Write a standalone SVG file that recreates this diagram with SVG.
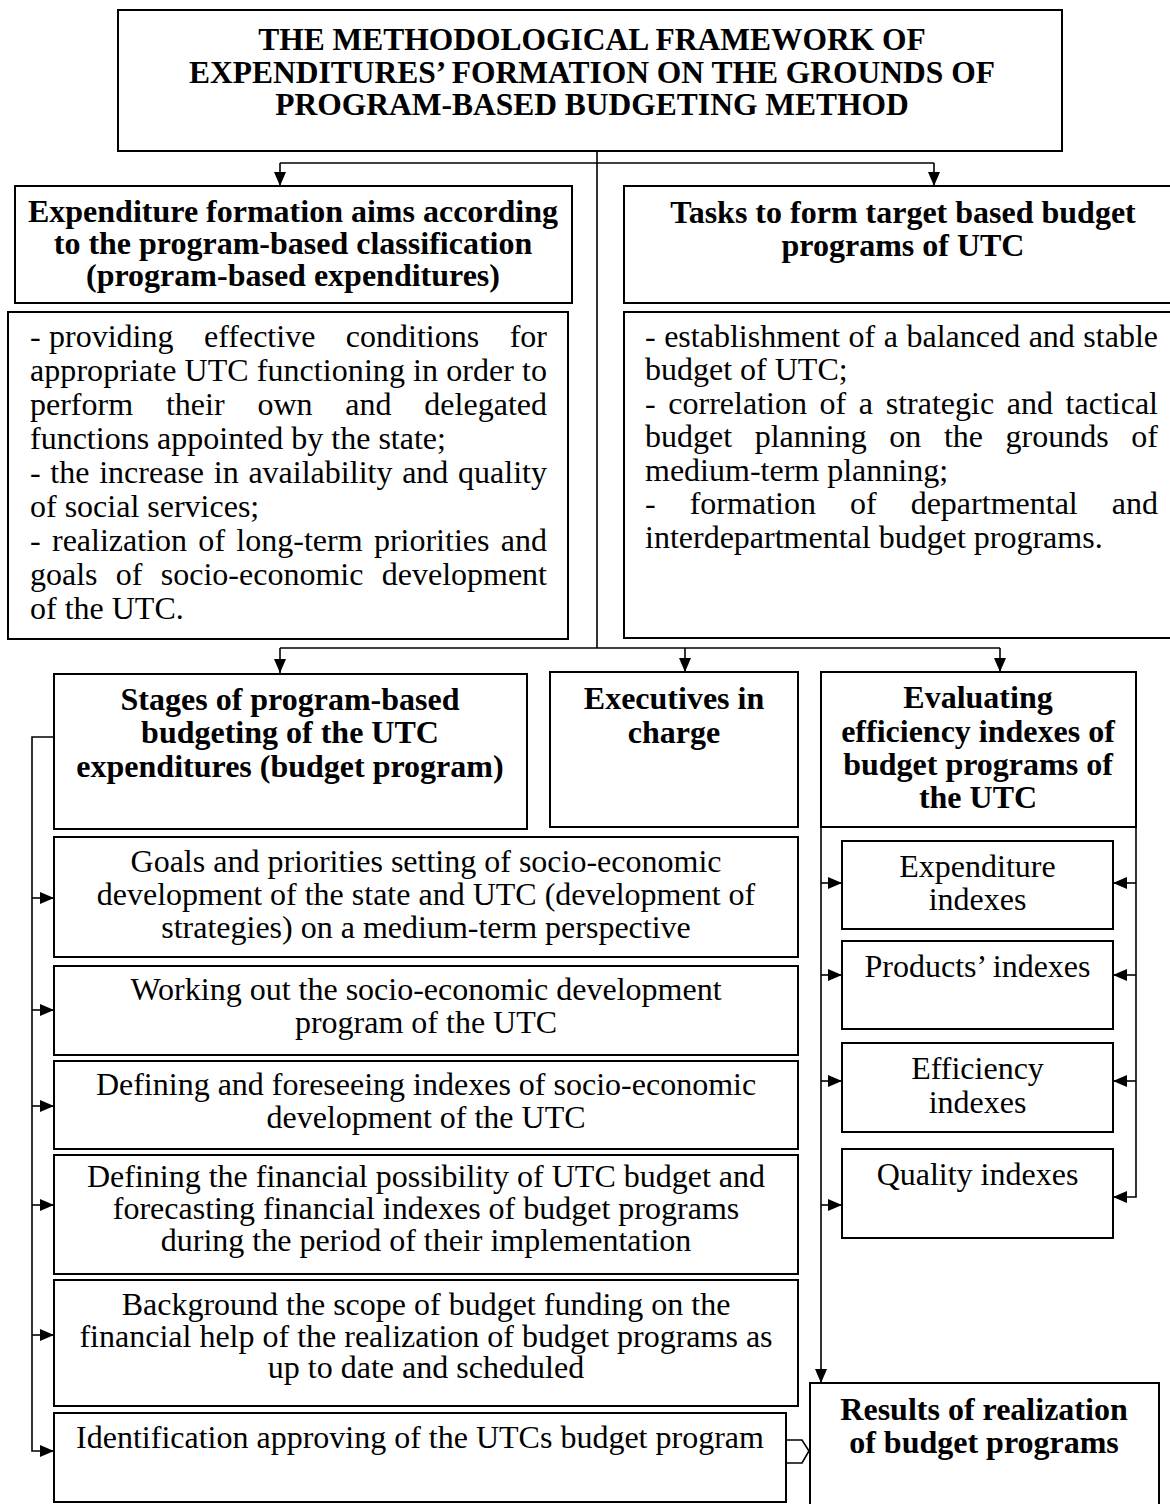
<svg xmlns="http://www.w3.org/2000/svg" width="1170" height="1504" viewBox="0 0 1170 1504">
<style>
.box{fill:#fff;stroke:#000;stroke-width:2}
.ln{fill:none;stroke:#000;stroke-width:1.6}
text{font-family:"Liberation Serif","Times New Roman",serif;font-size:32px;fill:#000}
.b{font-weight:bold}
.c{text-anchor:middle}
.t{font-size:31.5px}
</style>
<defs>
<marker id="ah" markerUnits="userSpaceOnUse" markerWidth="14" markerHeight="12" refX="14" refY="6" orient="auto">
<path d="M0,0 L14,6 L0,12 z" fill="#000"/>
</marker>
</defs>
<rect width="1170" height="1504" fill="#fff"/>

<g id="connectors">
<path class="ln" d="M597,151 V648"/>
<path class="ln" d="M280,163 H934"/>
<path class="ln" d="M280,163 V186" marker-end="url(#ah)"/>
<path class="ln" d="M934,163 V186" marker-end="url(#ah)"/>
<path class="ln" d="M280,648 H1000"/>
<path class="ln" d="M280,648 V673" marker-end="url(#ah)"/>
<path class="ln" d="M685,648 V672" marker-end="url(#ah)"/>
<path class="ln" d="M1000,648 V672" marker-end="url(#ah)"/>
<path class="ln" d="M54,737 H32 V1451 H54" marker-end="url(#ah)"/>
<path class="ln" d="M32,898 H54" marker-end="url(#ah)"/>
<path class="ln" d="M32,1010 H54" marker-end="url(#ah)"/>
<path class="ln" d="M32,1106 H54" marker-end="url(#ah)"/>
<path class="ln" d="M32,1205 H54" marker-end="url(#ah)"/>
<path class="ln" d="M32,1335 H54" marker-end="url(#ah)"/>
<path class="ln" d="M821,827 V1383" marker-end="url(#ah)"/>
<path class="ln" d="M1136,827 V1197 H1113" marker-end="url(#ah)"/>
<path class="ln" d="M821,883 H842" marker-end="url(#ah)"/>
<path class="ln" d="M821,975 H842" marker-end="url(#ah)"/>
<path class="ln" d="M821,1081 H842" marker-end="url(#ah)"/>
<path class="ln" d="M821,1205 H842" marker-end="url(#ah)"/>
<path class="ln" d="M1136,883 H1113" marker-end="url(#ah)"/>
<path class="ln" d="M1136,975 H1113" marker-end="url(#ah)"/>
<path class="ln" d="M1136,1081 H1113" marker-end="url(#ah)"/>
<path class="ln" d="M787,1440 H802 L809,1451 L802,1463 H787"/>
</g>

<g id="title">
<rect class="box" x="118" y="10" width="944" height="141"/>
<text class="b c t" x="592" y="50">THE METHODOLOGICAL FRAMEWORK OF</text>
<text class="b c t" x="592" y="83">EXPENDITURES’ FORMATION ON THE GROUNDS OF</text>
<text class="b c t" x="592" y="115">PROGRAM-BASED BUDGETING METHOD</text>
</g>

<g id="aims-head">
<rect class="box" x="15" y="186" width="557" height="117"/>
<text class="b c" x="293" y="222">Expenditure formation aims according</text>
<text class="b c" x="293" y="254">to the program-based classification</text>
<text class="b c" x="293" y="286">(program-based expenditures)</text>
</g>

<g id="aims-text">
<rect class="box" x="8" y="312" width="560" height="327"/>
<text x="30" y="347">-</text>
<text x="49" y="347" word-spacing="22.4" textLength="498" lengthAdjust="spacing">providing effective conditions for</text>
<text x="30" y="381" textLength="517" lengthAdjust="spacing">appropriate UTC functioning in order to</text>
<text x="30" y="415" word-spacing="24.8" textLength="517" lengthAdjust="spacing">perform their own and delegated</text>
<text x="30" y="449">functions appointed by the state;</text>
<text x="30" y="483" word-spacing="1.7" textLength="517" lengthAdjust="spacing">- the increase in availability and quality</text>
<text x="30" y="517">of social services;</text>
<text x="30" y="551" word-spacing="3.3" textLength="517" lengthAdjust="spacing">- realization of long-term priorities and</text>
<text x="30" y="585" word-spacing="10.3" textLength="517" lengthAdjust="spacing">goals of socio-economic development</text>
<text x="30" y="619">of the UTC.</text>
</g>

<g id="tasks-head">
<rect class="box" x="624" y="186" width="560" height="117"/>
<text class="b c" x="903" y="223">Tasks to form target based budget</text>
<text class="b c" x="903" y="256">programs of UTC</text>
</g>

<g id="tasks-text">
<rect class="box" x="624" y="312" width="560" height="326"/>
<text x="645" y="347" word-spacing="0.5" textLength="513" lengthAdjust="spacing">- establishment of a balanced and stable</text>
<text x="645" y="380">budget of UTC;</text>
<text x="645" y="414" word-spacing="4.6" textLength="513" lengthAdjust="spacing">- correlation of a strategic and tactical</text>
<text x="645" y="447" word-spacing="14.6" textLength="513" lengthAdjust="spacing">budget planning on the grounds of</text>
<text x="645" y="481">medium-term planning;</text>
<text x="645" y="514" word-spacing="26" textLength="513" lengthAdjust="spacing">- formation of departmental and</text>
<text x="645" y="548">interdepartmental budget programs.</text>
</g>

<g id="stages-head">
<rect class="box" x="54" y="674" width="473" height="155"/>
<text class="b c" x="290" y="710">Stages of program-based</text>
<text class="b c" x="290" y="743">budgeting of the UTC</text>
<text class="b c" x="290" y="777">expenditures (budget program)</text>
</g>

<g id="executives">
<rect class="box" x="550" y="672" width="248" height="155"/>
<text class="b c" x="674" y="709">Executives in</text>
<text class="b c" x="674" y="743">charge</text>
</g>

<g id="evaluating">
<rect class="box" x="821" y="672" width="315" height="155"/>
<text class="b c" x="978" y="708">Evaluating</text>
<text class="b c" x="978" y="742">efficiency indexes of</text>
<text class="b c" x="978" y="775">budget programs of</text>
<text class="b c" x="978" y="808">the UTC</text>
</g>

<g id="stage-goals">
<rect class="box" x="54" y="837" width="744" height="120"/>
<text class="c" x="426" y="872">Goals and priorities setting of socio-economic</text>
<text class="c" x="426" y="905">development of the state and UTC (development of</text>
<text class="c" x="426" y="938">strategies) on a medium-term perspective</text>
</g>

<g id="stage-program">
<rect class="box" x="54" y="966" width="744" height="89"/>
<text class="c" x="426" y="1000">Working out the socio-economic development</text>
<text class="c" x="426" y="1033">program of the UTC</text>
</g>

<g id="stage-indexes">
<rect class="box" x="54" y="1061" width="744" height="88"/>
<text class="c" x="426" y="1095">Defining and foreseeing indexes of socio-economic</text>
<text class="c" x="426" y="1128">development of the UTC</text>
</g>

<g id="stage-financial">
<rect class="box" x="54" y="1155" width="744" height="119"/>
<text class="c" x="426" y="1187">Defining the financial possibility of UTC budget and</text>
<text class="c" x="426" y="1219">forecasting financial indexes of budget programs</text>
<text class="c" x="426" y="1251">during the period of their implementation</text>
</g>

<g id="stage-funding">
<rect class="box" x="54" y="1280" width="744" height="126"/>
<text class="c" x="426" y="1315">Background the scope of budget funding on the</text>
<text class="c" x="426" y="1347">financial help of the realization of budget programs as</text>
<text class="c" x="426" y="1378">up to date and scheduled</text>
</g>

<g id="stage-approval">
<rect class="box" x="54" y="1413" width="732" height="89"/>
<text class="c" x="420" y="1448">Identification approving of the UTCs budget program</text>
</g>

<g id="idx-expenditure">
<rect class="box" x="842" y="841" width="271" height="88"/>
<text class="c" x="977.5" y="877">Expenditure</text>
<text class="c" x="977.5" y="910">indexes</text>
</g>

<g id="idx-products">
<rect class="box" x="842" y="941" width="271" height="88"/>
<text class="c" x="977.5" y="977">Products’ indexes</text>
</g>

<g id="idx-efficiency">
<rect class="box" x="842" y="1043" width="271" height="89"/>
<text class="c" x="977.5" y="1079">Efficiency</text>
<text class="c" x="977.5" y="1113">indexes</text>
</g>

<g id="idx-quality">
<rect class="box" x="842" y="1149" width="271" height="89"/>
<text class="c" x="977.5" y="1185">Quality indexes</text>
</g>

<g id="results">
<rect class="box" x="810" y="1383" width="349" height="130"/>
<text class="b c" x="984" y="1420">Results of realization</text>
<text class="b c" x="984" y="1453">of budget programs</text>
</g>
</svg>
